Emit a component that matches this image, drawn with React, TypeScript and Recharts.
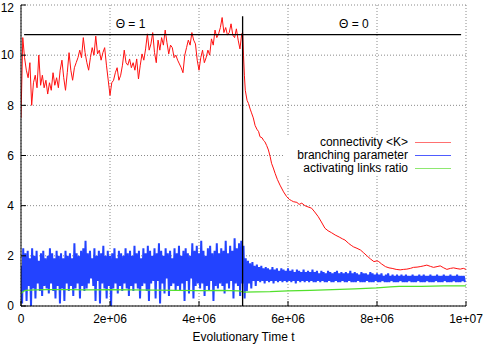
import { LineChart, Line, XAxis, YAxis, CartesianGrid, ReferenceLine, ReferenceDot, Legend } from 'recharts';

const font = '"Liberation Sans", Arial, Helvetica, sans-serif';

// time is in units of 1e6 steps
const xTicks = [0, 2, 4, 6, 8, 10];
const xTickLabels = ['0', '2e+06', '4e+06', '6e+06', '8e+06', '1e+07'];
const yTicks = [0, 2, 4, 6, 8, 10, 12];

const seriesNames = ['connectivity <K>', 'branching parameter', 'activating links ratio'];
const seriesColors = ['#ff1010', '#2343ff', '#52e02c'];
const legendColors = ['#ff7070', '#4f5cff', '#8ee870'];

// connectivity <K> while theta = 1, one sample every 0.04
const kStep = 0.04;
const kTheta1 = [
  7.5, 10.7, 9.9, 9.4, 9.1, 9.7, 8.0, 8.9, 9.2, 8.7,
  10.0, 8.8, 9.2, 8.7, 9.0, 8.45, 8.9, 8.6, 9.3, 8.8,
  9.1, 8.7, 9.4, 9.8, 9.1, 8.6, 9.3, 10.1, 9.4, 9.0,
  9.5, 9.7, 9.9, 10.2, 9.9, 10.7, 10.1, 9.7, 9.4, 9.9,
  10.3, 10.0, 10.76, 10.05, 10.2, 9.8, 10.1, 10.3, 9.6, 9.0,
  8.4, 8.9, 9.0, 9.3, 9.5, 9.0, 9.2, 9.6, 10.2, 9.7,
  9.6, 9.85, 9.5, 9.7, 9.4, 9.85, 9.05, 9.6, 10.05, 9.8,
  10.25, 10.85, 10.2, 10.45, 10.9, 10.1, 9.7, 10.6, 10.2, 10.7,
  10.4, 11.0, 10.5, 10.05, 10.4, 10.3, 9.9, 10.0, 9.8, 9.65,
  9.5, 9.3, 10.0, 10.3, 10.6, 10.4, 10.9, 10.6, 10.45, 9.8,
  9.4, 9.9, 10.2, 9.7, 9.9, 10.2, 10.0, 10.65, 10.4, 11.0,
  10.7, 10.85, 11.1, 11.5, 10.9, 11.1, 10.8, 10.9, 11.25, 10.8,
  10.7, 11.05, 10.6, 10.25, 10.85,
];

// connectivity <K> after the switch to theta = 0
const kTime2 = [
  4.98, 5.0, 5.02, 5.04, 5.08, 5.11, 5.15, 5.18, 5.22, 5.26,
  5.3, 5.34, 5.37, 5.42, 5.45, 5.48, 5.52, 5.56, 5.6, 5.63,
  5.67, 5.71, 5.76, 5.82, 5.9, 5.97, 6.03, 6.08, 6.12, 6.2,
  6.25, 6.31, 6.38, 6.45, 6.53, 6.6, 6.68, 6.75, 6.83, 6.9,
  6.98, 7.06, 7.15, 7.22, 7.28, 7.36, 7.42, 7.47, 7.55, 7.63,
  7.7, 7.78, 7.85, 7.93, 8.0, 8.04, 8.1, 8.19, 8.27, 8.34,
  8.43, 8.52, 8.6, 8.67, 8.75, 8.82, 8.9, 8.97, 9.05, 9.12,
  9.2, 9.27, 9.35, 9.42, 9.5, 9.57, 9.65, 9.72, 9.8, 9.87,
  9.94, 10.0,
];
const kValue2 = [
  10.9, 10.0, 9.2, 8.6, 8.2, 8.08, 7.85, 7.7, 7.5, 7.2,
  7.05, 6.95, 6.75, 6.7, 6.6, 6.55, 6.4, 6.22, 5.95, 5.69,
  5.5, 5.29, 5.05, 4.82, 4.55, 4.36, 4.25, 4.2, 4.16, 4.13,
  4.05, 4.1, 4.0, 3.95, 3.9, 3.75, 3.56, 3.35, 3.1, 3.0,
  2.92, 2.83, 2.75, 2.68, 2.63, 2.5, 2.42, 2.36, 2.3, 2.23,
  2.12, 1.99, 1.88, 1.77, 1.8, 1.77, 1.68, 1.57, 1.52, 1.5,
  1.46, 1.44, 1.46, 1.47, 1.5, 1.54, 1.55, 1.57, 1.6, 1.63,
  1.58, 1.54, 1.57, 1.6, 1.52, 1.46, 1.5, 1.52, 1.49, 1.47,
  1.5, 1.46,
];

// branching parameter: upper and lower swings, one pair every 0.05
const bStep = 0.05;
const bPeak1 = [
  1.6, 2.3, 2.1, 2.2, 1.9, 2.3, 2.0, 2.2, 1.8, 2.1,
  2.2, 1.9, 2.0, 2.3, 2.1, 1.9, 2.2, 2.0, 2.1, 1.9,
  2.2, 2.0, 2.1, 1.9, 2.5, 2.1, 2.0, 2.2, 2.3, 2.6,
  2.1, 2.2, 1.9, 2.3, 2.0, 2.2, 2.1, 2.4, 2.0, 2.2,
  2.0, 2.1, 2.3, 1.9, 2.2, 2.1, 2.0, 2.3, 2.1, 2.2,
  2.0, 2.4, 2.1, 2.2, 1.9, 2.3, 2.1, 2.4, 2.2, 2.0,
  2.3, 2.1, 2.5, 2.2, 2.0, 2.3, 2.1, 2.2, 1.9, 2.3,
  2.1, 2.4, 2.0, 2.2, 2.3, 2.1, 2.0, 2.5, 2.2, 2.4,
  2.1, 2.6, 2.2, 2.0, 2.3, 2.4, 2.1, 2.2, 2.5, 2.1,
  2.3, 2.2, 2.6, 2.1, 2.4, 2.2, 2.7, 2.3, 2.5, 2.6,
];
const bDip1 = [
  0.1, 0.6, 0.2, 0.8, 0.0, 0.7, 0.3, 0.9, 0.6, 0.4,
  0.8, 0.7, 0.5, 0.9, 0.6, 0.3, 0.8, 0.1, 0.7, 0.2,
  0.9, 0.6, 0.8, 0.4, 0.7, 0.9, 0.3, 0.8, 0.6, 0.7,
  0.9, 1.1, 0.8, 0.2, 1.0, 0.1, 0.9, 0.7, 0.3, 0.8,
  0.0, 0.7, 0.9, 0.5, 0.8, 0.6, 0.9, 0.7, 0.4, 0.8,
  0.6, 0.9, 0.7, 0.3, 0.8, 0.9, 0.6, 0.2, 0.9, 1.0,
  0.3, 1.0, 0.1, 0.9, 0.5, 1.1, 0.4, 0.8, 0.9, 0.6,
  0.8, 0.6, 0.9, 0.2, 1.0, 0.5, 1.1, 0.3, 0.8, 0.9,
  0.7, 0.9, 0.4, 0.8, 0.6, 1.0, 0.2, 0.8, 0.7, 0.9,
  0.8, 0.5, 0.9, 0.7, 1.0, 0.3, 0.9, 0.8, 0.4, 0.9,
];
const bPeak2 = [
  2.4, 1.9, 1.8, 1.7, 1.75, 1.6, 1.65, 1.55, 1.6, 1.5,
  1.55, 1.5, 1.45, 1.55, 1.45, 1.5, 1.4, 1.5, 1.45, 1.4,
  1.5, 1.4, 1.45, 1.35, 1.45, 1.4, 1.35, 1.45, 1.35, 1.4,
  1.35, 1.45, 1.35, 1.4, 1.3, 1.4, 1.35, 1.3, 1.4, 1.35,
  1.3, 1.35, 1.4, 1.3, 1.35, 1.3, 1.35, 1.3, 1.4, 1.3,
  1.35, 1.3, 1.25, 1.35, 1.3, 1.3, 1.25, 1.35, 1.3, 1.25,
  1.3, 1.25, 1.3, 1.2, 1.25, 1.3, 1.2, 1.25, 1.2, 1.25,
  1.2, 1.25, 1.2, 1.25, 1.2, 1.2, 1.25, 1.2, 1.2, 1.25,
  1.2, 1.25, 1.2, 1.2, 1.25, 1.2, 1.2, 1.25, 1.2, 1.2,
  1.25, 1.2, 1.2, 1.25, 1.2, 1.2, 1.25, 1.2, 1.2, 1.2,
];
const bDip2 = [
  0.3, 0.6, 0.9, 0.7, 1.0, 0.8, 1.0, 0.95, 1.0, 0.9,
  1.0, 0.95, 1.0, 0.9, 1.0, 0.95, 1.0, 0.95, 1.0, 0.95,
  1.0, 0.95, 1.0, 0.9, 1.0, 0.95, 1.0, 0.95, 1.0, 0.95,
  1.0, 0.95, 0.95, 1.0, 0.95, 1.0, 0.95, 0.95, 1.0, 0.95,
  0.95, 1.0, 0.95, 0.95, 1.0, 0.95, 0.95, 1.0, 0.95, 0.95,
  0.95, 1.0, 0.95, 0.95, 0.95, 1.0, 0.95, 0.95, 0.95, 1.0,
  0.95, 0.95, 1.0, 0.95, 0.95, 0.95, 1.0, 0.95, 0.95, 0.95,
  1.0, 0.95, 0.95, 0.95, 1.0, 0.95, 0.95, 0.95, 1.0, 0.95,
  0.95, 0.95, 1.0, 0.95, 0.95, 0.95, 1.0, 0.95, 0.95, 0.95,
  1.0, 0.95, 0.95, 0.95, 1.0, 0.95, 0.95, 0.95, 1.0, 0.95,
];

// activating links ratio
const aTime = [0, 0.05, 0.1, 0.3, 0.6, 1.0, 1.5, 2.0, 2.5, 3.0, 3.5, 4.0, 4.5, 4.9, 5.0, 5.3, 5.6, 6.0, 6.5, 7.0, 7.5, 8.0, 8.3, 8.5, 9.0, 9.5, 10.0];
const aValue = [0.5, 0.58, 0.62, 0.64, 0.65, 0.65, 0.64, 0.65, 0.64, 0.63, 0.62, 0.61, 0.62, 0.6, 0.55, 0.56, 0.57, 0.6, 0.62, 0.65, 0.68, 0.72, 0.76, 0.78, 0.78, 0.8, 0.8];

const kData = [
  ...kTheta1.map((v, i) => ({ t: i * kStep, v })),
  ...kTime2.map((t, i) => ({ t, v: kValue2[i] })),
];
const bPeak = [...bPeak1, ...bPeak2];
const bDip = [...bDip1, ...bDip2];
const bData = bPeak.flatMap((p, i) => [
  { t: i * bStep, v: p },
  { t: i * bStep + bStep / 2, v: bDip[i] },
]);
const aData = aTime.map((t, i) => ({ t, v: aValue[i] }));

const tickStyle = { fill: '#000', fontSize: 12, fontFamily: font };

// gnuplot-like key: right-aligned titles with a short line sample after each
const renderLegend = () => (
  <div style={{ background: '#fff', fontFamily: font, fontSize: 12, color: '#000', paddingBottom: 1 }}>
    {seriesNames.map((n, i) => (
      <div key={n} style={{ display: 'flex', alignItems: 'center', height: 13, lineHeight: '13px' }}>
        <span style={{ width: 123, textAlign: 'right', whiteSpace: 'nowrap' }}>{n}</span>
        <svg width={43} height={13} style={{ display: 'block' }}>
          <line x1={7} y1={6.5} x2={43} y2={6.5} stroke={legendColors[i]} strokeWidth={1} />
        </svg>
      </div>
    ))}
  </div>
);

export default function App() {
  return (
    <div style={{ position: 'absolute', left: 0, top: 0, background: '#fff' }}>
      <LineChart width={485} height={344} margin={{ top: 5, right: 19, left: 0, bottom: 0 }}>
        <CartesianGrid stroke="#8a8a8a" strokeDasharray="1 2" />
        <XAxis
          dataKey="t"
          type="number"
          domain={[0, 10]}
          ticks={xTicks}
          allowDataOverflow
          height={38}
          stroke="#000"
          tickSize={-5}
          tickMargin={13}
          tick={tickStyle}
          tickFormatter={(v: number) => xTickLabels[xTicks.indexOf(v)] ?? String(v)}
          label={{ value: 'Evolutionary Time t', position: 'insideBottom', offset: 3, fill: '#000', fontSize: 12, fontFamily: font }}
        />
        <XAxis xAxisId="top" orientation="top" type="number" domain={[0, 10]} ticks={xTicks} allowDataOverflow height={0} stroke="#000" tickSize={-5} tick={false} />
        <YAxis
          type="number"
          domain={[0, 12]}
          ticks={yTicks}
          allowDataOverflow
          width={21}
          stroke="#000"
          tickSize={-5}
          tickMargin={12}
          tick={tickStyle}
        />
        <YAxis yAxisId="right" orientation="right" type="number" domain={[0, 12]} ticks={yTicks} allowDataOverflow width={0} stroke="#000" tickSize={-5} tick={false} />
        <Legend layout="horizontal" verticalAlign="middle" align="center" content={renderLegend} wrapperStyle={{ left: 285, top: 136, width: 178 }} />
        <Line data={bData} dataKey="v" name={seriesNames[1]} stroke={seriesColors[1]} strokeWidth={2} strokeLinejoin="bevel" dot={false} isAnimationActive={false} />
        <Line data={aData} dataKey="v" name={seriesNames[2]} stroke={seriesColors[2]} strokeWidth={1.2} dot={false} isAnimationActive={false} />
        <Line data={kData} dataKey="v" name={seriesNames[0]} stroke={seriesColors[0]} strokeWidth={1} dot={false} isAnimationActive={false} />
        <ReferenceLine segment={[{ x: 0.07, y: 10.82 }, { x: 9.89, y: 10.82 }]} stroke="#000" strokeWidth={1.3} />
        <ReferenceLine segment={[{ x: 4.98, y: 0 }, { x: 4.98, y: 11.55 }]} stroke="#000" strokeWidth={1.3} />
        <ReferenceDot x={2.46} y={11.25} r={0} fill="none" stroke="none" label={{ value: 'Θ = 1', position: 'center', fill: '#000', fontSize: 12, fontFamily: font }} />
        <ReferenceDot x={7.48} y={11.25} r={0} fill="none" stroke="none" label={{ value: 'Θ = 0', position: 'center', fill: '#000', fontSize: 12, fontFamily: font }} />
      </LineChart>
    </div>
  );
}
